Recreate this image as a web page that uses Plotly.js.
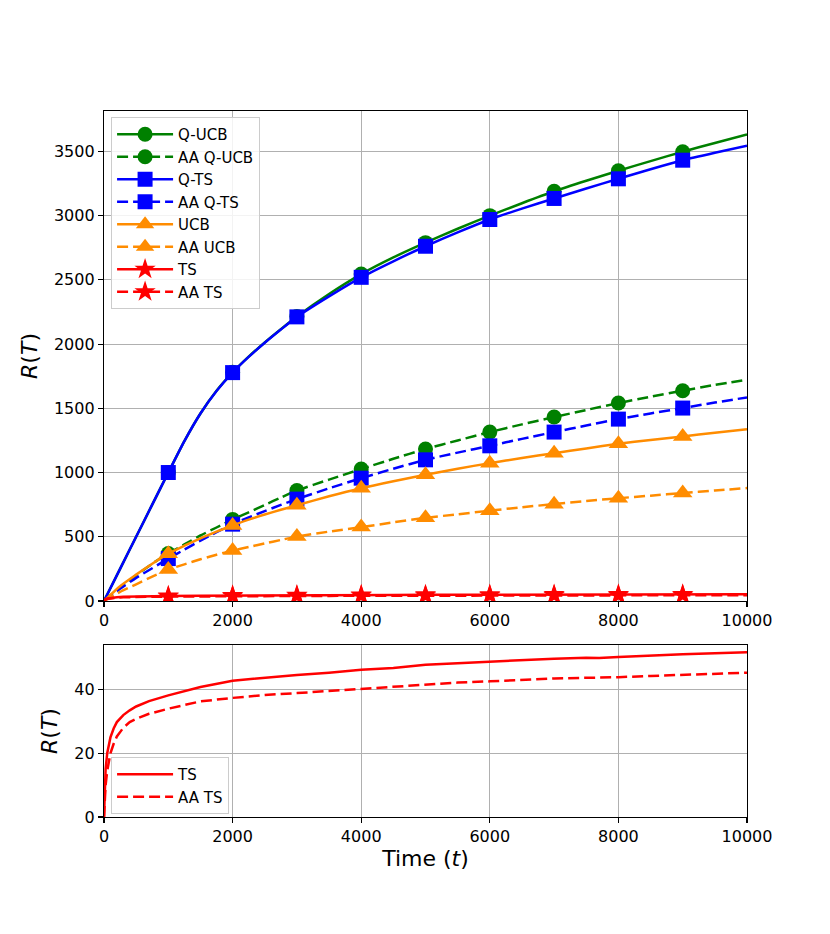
<!DOCTYPE html>
<html>
<head>
<meta charset="utf-8">
<script src="https://cdn.plot.ly/plotly-3.0.1.min.js"></script>
<style>
  html, body { margin: 0; padding: 0; background: #fff; }
  #chart { width: 830px; height: 934px; }
</style>
</head>
<body>
<div id="chart"></div>
<script>
// ---- data ----
const tTop = [0, 250, 500, 750, 1000, 1250, 1500, 1750, 2000, 2250, 2500, 2750, 3000,
  3500, 4000, 4500, 5000, 5500, 6000, 6500, 7000, 7500, 8000, 8500, 9000, 9500, 10000];

const qUcb = [0, 250, 500, 750, 1000, 1245, 1460, 1637, 1780, 1902, 2013, 2116, 2215,
  2390, 2545, 2675, 2790, 2898, 3000, 3097, 3190, 3272, 3350, 3425, 3498, 3566, 3633];
const aaQUcb = [0, 105, 200, 290, 370, 440, 510, 572, 635, 690, 748, 805, 860,
  945, 1027, 1107, 1183, 1250, 1315, 1375, 1432, 1487, 1541, 1590, 1637, 1682, 1723];
const qTs = [0, 250, 500, 750, 1000, 1245, 1460, 1635, 1778, 1900, 2010, 2113, 2212,
  2372, 2520, 2645, 2762, 2870, 2970, 3055, 3134, 3212, 3287, 3362, 3432, 3490, 3545];
const aaQTs = [0, 95, 180, 255, 330, 400, 470, 535, 598, 650, 700, 748, 793,
  877, 956, 1030, 1099, 1155, 1208, 1262, 1315, 1366, 1416, 1460, 1502, 1545, 1585];
const ucb = [0, 115, 205, 290, 368, 430, 488, 540, 588, 633, 673, 710, 745,
  815, 878, 932, 982, 1030, 1073, 1113, 1151, 1188, 1224, 1253, 1281, 1310, 1338];
const aaUcb = [0, 70, 130, 190, 245, 285, 325, 360, 392, 420, 448, 475, 501,
  540, 575, 612, 647, 675, 703, 730, 754, 778, 800, 820, 840, 860, 879];

const tTs = [0, 10, 25, 50, 100, 150, 200, 300, 400, 500, 700, 1000, 1500, 2000, 2500,
  3000, 3500, 4000, 4500, 5000, 5500, 6000, 6500, 7000, 7500, 7700, 8000, 8500, 9000, 9500, 10000];
const ts = [0, 8, 15, 20, 25, 27.8, 29.8, 32, 33.5, 34.7, 36.4, 38.2, 40.8, 42.8, 43.8,
  44.6, 45.3, 46.2, 46.8, 47.8, 48.3, 48.8, 49.3, 49.7, 50.0, 49.9, 50.2, 50.7, 51.1, 51.4, 51.7];
const aaTs = [0, 5, 10, 14.5, 20, 23, 25.3, 28, 29.8, 30.8, 32.4, 34, 36.3, 37.4, 38.3,
  38.9, 39.6, 40.3, 41, 41.7, 42.2, 42.6, 43.1, 43.5, 43.7, 43.7, 43.9, 44.3, 44.7, 45.0, 45.3];

const xTicks = [0, 2000, 4000, 6000, 8000, 10000];

// ---- styling ----
const FONT = "DejaVu Sans, Arial, sans-serif";
const LW = 2.5;
const DASH = "11px,5px";

const topSeries = [
  { name: "Q-UCB",    x: tTop, y: qUcb,   color: "#008000", dash: "solid", symbol: "circle",      size: 15, shape: "spline" },
  { name: "AA Q-UCB", x: tTop, y: aaQUcb, color: "#008000", dash: DASH,    symbol: "circle",      size: 15, shape: "spline" },
  { name: "Q-TS",     x: tTop, y: qTs,    color: "#0000ff", dash: "solid", symbol: "square",      size: 15, shape: "spline" },
  { name: "AA Q-TS",  x: tTop, y: aaQTs,  color: "#0000ff", dash: DASH,    symbol: "square",      size: 15, shape: "spline" },
  { name: "UCB",      x: tTop, y: ucb,    color: "#ff8c00", dash: "solid", symbol: "triangle-up", size: 17, shape: "spline" },
  { name: "AA UCB",   x: tTop, y: aaUcb,  color: "#ff8c00", dash: DASH,    symbol: "triangle-up", size: 17, shape: "spline" },
  { name: "TS",       x: tTs,  y: ts,     color: "#ff0000", dash: "solid", symbol: "star",        size: 16, shape: "linear" },
  { name: "AA TS",    x: tTs,  y: aaTs,   color: "#ff0000", dash: DASH,    symbol: "star",        size: 16, shape: "linear" },
];

// markers every 1000 steps, not at the ends
function markerSizes(xs, size) {
  return xs.map(t => (t > 0 && t < 10000 && t % 1000 === 0) ? size : 0);
}

const traces = [];

topSeries.forEach(s => {
  traces.push({
    x: s.x, y: s.y, xaxis: "x", yaxis: "y",
    type: "scatter", mode: "lines+markers", showlegend: false,
    line: { color: s.color, width: LW, dash: s.dash, shape: s.shape, smoothing: 0.6 },
    marker: { color: s.color, symbol: s.symbol, size: markerSizes(s.x, s.size),
              opacity: 1, line: { width: 0 } },
    hoverinfo: "skip",
  });
});

// legend entries for the top panel
topSeries.forEach(s => {
  traces.push({
    x: [null], y: [null], xaxis: "x", yaxis: "y",
    type: "scatter", mode: "lines+markers", name: s.name, legend: "legend",
    line: { color: s.color, width: LW, dash: s.dash },
    marker: { color: s.color, symbol: s.symbol, size: Math.min(s.size, 16), opacity: 1, line: { width: 0 } },
  });
});

// bottom panel: TS zoom
traces.push({
  x: tTs, y: ts, xaxis: "x2", yaxis: "y2", name: "TS", legend: "legend2",
  type: "scatter", mode: "lines",
  line: { color: "#ff0000", width: LW },
});
traces.push({
  x: tTs, y: aaTs, xaxis: "x2", yaxis: "y2", name: "AA TS", legend: "legend2",
  type: "scatter", mode: "lines",
  line: { color: "#ff0000", width: LW, dash: DASH },
});

const axisBase = {
  showline: true, linecolor: "#000", linewidth: 1.2, mirror: true,
  ticks: "outside", ticklen: 5, tickwidth: 1.2, tickcolor: "#000",
  showgrid: true, gridcolor: "#b0b0b0", gridwidth: 1,
  zeroline: false,
  tickfont: { family: FONT, size: 16, color: "#000" },
};

const legendBase = {
  font: { family: FONT, size: 15, color: "#000" },
  bgcolor: "rgba(255,255,255,0.85)", bordercolor: "#cccccc", borderwidth: 1,
  xanchor: "left", yanchor: "top", traceorder: "normal", itemwidth: 56,
};

const layout = {
  width: 830, height: 934,
  margin: { l: 104, r: 83, t: 111, b: 117 },
  paper_bgcolor: "#fff", plot_bgcolor: "#fff",
  font: { family: FONT, color: "#000" },
  xaxis: Object.assign({}, axisBase, {
    domain: [0, 1], anchor: "y", range: [0, 10000],
    tickvals: xTicks, ticktext: xTicks.map(String),
  }),
  yaxis: Object.assign({}, axisBase, {
    domain: [0.306, 1], anchor: "x", range: [0, 3815], dtick: 500,
    title: { text: "<i>R</i>(<i>T</i>)", font: { family: FONT, size: 22, color: "#000" }, standoff: 10 },
  }),
  xaxis2: Object.assign({}, axisBase, {
    domain: [0, 1], anchor: "y2", range: [0, 10000],
    tickvals: xTicks, ticktext: xTicks.map(String),
    title: { text: "Time (<i>t</i>)", font: { family: FONT, size: 22, color: "#000" }, standoff: 4 },
  }),
  yaxis2: Object.assign({}, axisBase, {
    domain: [0, 0.2436], anchor: "x2", range: [0, 54], dtick: 20,
    title: { text: "<i>R</i>(<i>T</i>)", font: { family: FONT, size: 22, color: "#000" }, standoff: 10 },
  }),
  legend: Object.assign({}, legendBase, { x: 0.011, y: 0.9915 }),
  legend2: Object.assign({}, legendBase, { x: 0.011, y: 0.085 }),
};

Plotly.newPlot("chart", traces, layout, { displayModeBar: false, staticPlot: true });
</script>
</body>
</html>
